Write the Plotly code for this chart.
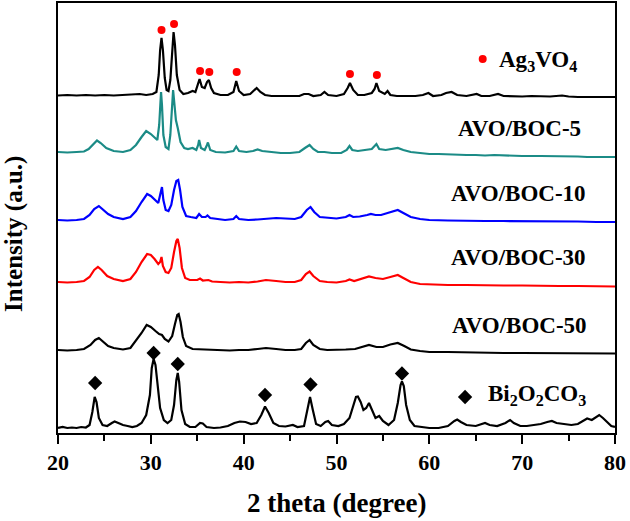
import plotly.graph_objects as go

# ---------------- data (2 theta in degrees, stacked intensity in a.u.) ----------------
ag_x = [20, 21, 22, 23, 24, 25, 26, 27, 28, 28.8, 29.5, 30.2, 30.6, 30.85, 31.0, 31.15, 31.3, 31.5, 31.7, 31.9,
        32.1, 32.3, 32.45, 32.6, 32.8, 33.1, 33.5, 34.0, 34.5, 34.8, 35.0, 35.25, 35.5, 35.8, 36.05, 36.25, 36.5,
        36.8, 37.5, 38.3, 38.9, 39.2, 39.5, 40.0, 40.7, 41.1, 41.4, 41.8, 42.3, 43, 44, 45, 46, 46.5, 47, 47.5,
        48.3, 48.7, 49.1, 50, 50.8, 51.2, 51.45, 51.8, 52.3, 53, 53.8, 54.1, 54.3, 54.6, 55.2, 55.5, 55.8, 56.5,
        57.5, 58.5, 59.3, 59.9, 60.4, 61.3, 61.8, 62.4, 63, 64, 65.1, 65.6, 66.5, 67.4, 68, 69, 70, 71, 72, 73,
        74.3, 75, 76, 77, 78, 79, 80]
ag_y = [337.5, 338, 337.5, 338, 337.5, 338, 337.5, 338, 338, 339, 338, 339, 341, 358, 383, 395, 383, 355, 343, 342,
        353, 388, 401, 388, 358, 343, 339, 340, 342, 341, 348, 354, 346, 345, 351, 353, 345,
        340, 338, 338, 341, 352, 342, 338, 339, 342, 345, 341, 338, 337, 337, 337.5, 337, 339, 339, 337,
        338, 341, 338, 337, 339, 345, 350, 343, 338, 338, 340, 344, 350, 342, 339, 342, 338, 337,
        337, 337, 338, 340, 337, 338, 340, 341, 338, 337, 339, 337, 337, 339, 337, 336.5, 336.5, 337, 336.5, 336.5,
        337.5, 336.5, 336, 336, 336, 336, 336]

b5_x = [20, 21, 22, 22.8, 23.3, 23.8, 24.2, 24.6, 25.2, 26, 27, 27.8, 28.4, 29.0, 29.5, 30.0, 30.4, 30.7, 30.9,
        31.0, 31.1, 31.2, 31.35, 31.6, 31.9, 32.1, 32.3, 32.4, 32.55, 32.7, 32.9, 33.2, 33.6, 34.0, 34.5, 34.9,
        35.1, 35.2, 35.4, 35.8, 36.05, 36.15, 36.4, 37, 38, 38.9, 39.2, 39.5, 40.3, 41, 41.5, 42, 43, 44, 45, 46,
        46.6, 47.1, 47.5, 48, 48.7, 49.5, 50.5, 51.1, 51.4, 51.7, 52.3, 53.2, 53.8, 54.3, 54.6, 55.3, 56, 56.6,
        57.2, 58, 59, 60, 61, 62, 63, 64, 65, 66, 67, 68, 69, 70, 72, 74, 75, 76, 77, 78, 80]
b5_y = [281, 280.5, 281, 281.5, 284, 289, 292.5, 290, 285, 282, 281, 283, 288, 296, 302, 299, 295, 293, 308,
        333, 341, 328, 298, 286, 284, 298, 333, 343, 328, 313, 305, 291, 285, 284, 285, 283,
        288, 293, 285, 283, 288, 290.5, 283, 281, 280.5, 282, 286.5, 282, 281, 282, 283.5, 282, 281, 280, 280, 281,
        285, 288, 284, 281, 281, 280, 280, 283, 287, 283, 282, 283, 284, 289, 284, 283, 284, 285,
        283, 281, 280, 279, 279, 278.5, 278, 278, 278, 277.5, 278, 277.5, 277, 277, 277, 277, 276.5, 276.5, 276, 276, 276]

b10_x = [20, 21, 22, 22.8, 23.4, 23.9, 24.4, 24.8, 25.4, 26, 27, 27.8, 28.4, 29.0, 29.6, 30.0, 30.4, 30.8, 31.0,
         31.2, 31.35, 31.6, 31.9, 32.2, 32.5, 32.75, 32.95, 33.15, 33.4, 33.8, 34.3, 34.9, 35.2, 35.5, 35.9, 36.1,
         36.4, 37, 38, 38.9, 39.2, 39.5, 40.5, 41.5, 42.5, 43.5, 44.5, 45.5, 46.2, 46.8, 47.2, 47.6, 48.2, 49, 50,
         51, 51.4, 51.8, 52.5, 53.3, 53.7, 54.2, 54.8, 55.5, 56.1, 56.6, 57.2, 58, 59, 60, 62, 64, 66, 68, 70, 72,
         74, 76, 78, 80]
b10_y = [213, 212.5, 213, 214, 218, 224, 227, 224, 219, 216, 214, 216, 222, 231, 239, 237, 233, 230, 238,
         246, 233, 223, 222, 228, 243, 252, 253, 243, 226, 217, 216, 215, 219, 216, 216, 217.5,
         215, 214, 213, 214, 217, 214, 213, 213.5, 214, 215, 214.5, 214, 216, 223, 226, 221, 216, 215, 214.5,
         216, 218, 216, 216.5, 218, 219, 218, 218, 220, 222, 223, 220, 216, 214, 213, 212.5, 212, 212, 212, 212, 211.5,
         211.5, 211.5, 211, 211]

b30_x = [20, 21, 22, 22.8, 23.4, 23.9, 24.3, 24.7, 25.3, 26, 27, 27.8, 28.4, 29.0, 29.6, 30.0, 30.4, 30.8, 31.0,
         31.15, 31.3, 31.6, 31.9, 32.2, 32.5, 32.75, 32.9, 33.1, 33.35, 33.7, 34.2, 35.0, 35.3, 35.6, 36.2, 36.6,
         37.5, 38.5, 39.5, 40.5, 41.5, 42.4, 43.5, 44.5, 45.5, 46.2, 46.7, 47.1, 47.5, 48.2, 49, 50, 51, 51.4, 51.9,
         52.7, 53.5, 54.2, 55, 55.8, 56.6, 57.2, 58, 59, 60, 62, 64, 66, 68, 70, 72, 74, 76, 78, 80]
b30_y = [151, 150.5, 151, 152, 156, 163, 166, 163, 157, 154, 152, 154, 161, 171, 179, 178, 174, 169, 171,
         176, 167, 161, 160, 165, 181, 192, 194, 185, 165, 155, 153, 153, 154.5, 152.5, 153, 151.5,
         151, 150.5, 151, 150.5, 151.5, 153, 152, 151, 151, 153, 159, 161.5, 157, 152, 151, 150.5, 152, 153.5, 152,
         154, 156.5, 155, 154, 156, 158, 155, 151, 149, 148.5, 148, 148, 147.5, 147.5, 147.5, 147, 147, 147, 147, 146.5]

b50_x = [20, 21, 22, 22.8, 23.5, 24.0, 24.4, 24.8, 25.4, 26, 27, 27.8, 28.4, 29.0, 29.55, 30.0, 30.5, 30.9, 31.2,
         31.5, 31.9, 32.3, 32.6, 32.85, 33.0, 33.2, 33.45, 33.8, 34.5, 35.5, 36.5, 37.5, 38.5, 39.5, 40.5, 41.5,
         42.4, 43.5, 44.5, 45.5, 46.2, 46.7, 47.1, 47.5, 48.2, 49, 50, 51, 52, 52.8, 53.5, 54.3, 55, 55.8, 56.6,
         57.3, 58, 59, 60, 62, 64, 66, 68, 70, 72, 74, 76, 78, 80]
b50_y = [83, 82.5, 83, 84, 88, 93, 95, 92, 87, 85, 83.5, 85, 92, 100, 108, 106, 102, 99, 98,
         94, 91.5, 97, 109, 118, 119, 111, 96, 87, 84, 83.5, 83, 83, 82.5, 83, 83, 84,
         85, 84, 83, 83, 84, 90, 93, 88, 84, 83, 83, 83.5, 84, 86, 88, 86, 86, 88.5, 90,
         87, 83.5, 82, 81, 81, 80.5, 80.5, 80, 80, 80, 80, 80, 79.5, 79.5]

boc_x = [20, 20.5, 21, 21.5, 22, 22.5, 23, 23.4, 23.7, 23.95, 24.15, 24.4, 24.8, 25.3, 25.8, 26.1, 26.5, 27, 27.5,
         28, 28.5, 29, 29.5, 29.9, 30.1, 30.3, 30.5, 30.7, 31.0, 31.4, 31.8, 32.2, 32.5, 32.75, 32.9, 33.05, 33.3,
         33.7, 34.2, 34.8, 35.3, 35.6, 36, 36.8, 37.5, 38.3, 39, 39.6, 40.2, 40.8, 41.4, 41.9, 42.3, 42.7, 43.2,
         43.8, 44.5, 45.3, 45.8, 46.5, 46.85, 47.15, 47.45, 47.8, 48.3, 48.8, 49.1, 49.5, 50.2, 50.8, 51.4, 51.8,
         52.1, 52.3, 52.6, 52.9, 53.2, 53.5, 53.8, 54.2, 54.6, 55.0, 55.6, 56.2, 56.6, 56.9, 57.05, 57.25, 57.5,
         57.9, 58.4, 59, 60, 61, 62, 62.7, 63.0, 63.4, 64, 65, 65.6, 66.0, 66.5, 67.3, 68.2, 68.7, 69.1, 69.8,
         70.5, 71.3, 72, 72.7, 73.2, 73.7, 74.5, 75.3, 76, 76.6, 77.0, 77.5, 78.0, 78.3, 78.7, 79.2, 79.6, 80]
boc_y = [5, 6, 5, 5.5, 5, 6, 5.5, 8, 21, 36, 31, 15, 8, 7, 10, 11.5, 10, 8, 7,
         6, 7, 10, 18, 38, 65, 74, 68, 48, 25, 13, 10, 13, 28, 53, 60, 51, 23,
         9, 6, 6, 10, 9.5, 6, 5, 5.5, 7, 10, 11.5, 11, 9, 10, 18, 26.5, 20, 10,
         7, 6.5, 8, 6, 7, 23, 36, 23, 9, 7, 11, 12, 8, 7, 9, 15, 28,
         36, 36.5, 31, 23, 25, 30, 23, 15, 17, 12, 8, 13, 30, 48, 51.5, 47, 28,
         13, 7, 6, 5, 5, 7, 12, 13.5, 11, 8, 7, 9, 10, 8, 7, 10, 13, 10, 7,
         7, 8, 9, 11, 12, 10, 9, 8, 9, 12, 14.5, 13, 16, 18, 15, 10, 7, 6]

# phase reflection markers
ag_mark_x = [31.15, 32.5, 35.3, 36.3, 39.25, 51.45, 54.35]
ag_mark_y = [403, 409, 362, 361, 361, 359, 358]
boc_mark_x = [24.0, 30.3, 32.9, 42.3, 47.2, 57.05]
boc_mark_y = [50, 80, 69, 38, 48.5, 59.5]

sample_labels = ["AVO/BOC-5", "AVO/BOC-10", "AVO/BOC-30", "AVO/BOC-50"]
label_x = [69.75, 69.6, 69.6, 69.7]
label_y = [305, 240, 176, 108]
x_ticks = [20, 30, 40, 50, 60, 70, 80]

FONT = "Liberation Serif"

fig = go.Figure()
traces = [
    (ag_x, ag_y, "#000000", "Ag3VO4"),
    (b5_x, b5_y, "#1b8b86", "AVO/BOC-5"),
    (b10_x, b10_y, "#0000ff", "AVO/BOC-10"),
    (b30_x, b30_y, "#ff0000", "AVO/BOC-30"),
    (b50_x, b50_y, "#000000", "AVO/BOC-50"),
    (boc_x, boc_y, "#000000", "Bi2O2CO3"),
]
for xs, ys, col, name in traces:
    fig.add_trace(go.Scatter(x=xs, y=ys, mode="lines", name=name,
                             line=dict(color=col, width=2.2), showlegend=False))

fig.add_trace(go.Scatter(x=ag_mark_x, y=ag_mark_y, mode="markers", showlegend=False,
                         marker=dict(symbol="circle", size=8, color="#ff0000")))
fig.add_trace(go.Scatter(x=boc_mark_x, y=boc_mark_y, mode="markers", showlegend=False,
                         marker=dict(symbol="diamond", size=11, color="#000000")))
# legend-like key markers
fig.add_trace(go.Scatter(x=[65.75], y=[374], mode="markers", showlegend=False,
                         marker=dict(symbol="circle", size=8, color="#ff0000")))
fig.add_trace(go.Scatter(x=[63.85], y=[36], mode="markers", showlegend=False,
                         marker=dict(symbol="diamond", size=11, color="#000000")))

for t, lx, ly in zip(sample_labels, label_x, label_y):
    fig.add_annotation(x=lx, y=ly, xref="x", yref="y", text="<b>" + t + "</b>", showarrow=False,
                       xanchor="center", yanchor="middle", font=dict(family=FONT, size=23, color="black"))
fig.add_annotation(x=67.3, y=372, xref="x", yref="y", text="<b>Ag<sub>3</sub>VO<sub>4</sub></b>",
                   showarrow=False, xanchor="left", yanchor="middle",
                   font=dict(family=FONT, size=23, color="black"))
fig.add_annotation(x=66.1, y=38, xref="x", yref="y", text="<b>Bi<sub>2</sub>O<sub>2</sub>CO<sub>3</sub></b>",
                   showarrow=False, xanchor="left", yanchor="middle",
                   font=dict(family=FONT, size=23, color="black"))

# axis titles
fig.add_annotation(x=0.5, y=-0.163, xref="paper", yref="paper", text="<b>2 theta (degree)</b>",
                   showarrow=False, xanchor="center", yanchor="middle",
                   font=dict(family=FONT, size=27, color="black"))
fig.add_annotation(x=-0.079, y=0.463, xref="paper", yref="paper", text="<b>Intensity (a.u.)</b>",
                   showarrow=False, xanchor="center", yanchor="middle", textangle=-90,
                   font=dict(family=FONT, size=25, color="black"))

fig.update_layout(
    width=630, height=521,
    margin=dict(l=58, r=15, t=3, b=88, autoexpand=False),
    paper_bgcolor="white", plot_bgcolor="white",
    font=dict(family=FONT, color="black"),
)
fig.update_xaxes(
    range=[20, 80], tickvals=x_ticks, ticktext=["<b>%d</b>" % v for v in x_ticks],
    ticks="outside", ticklen=9, tickwidth=1.5, tickcolor="black",
    minor=dict(dtick=5, tick0=20, ticks="outside", ticklen=6, tickwidth=1.5, tickcolor="black"),
    showline=True, linewidth=1.5, linecolor="black", mirror=True, showgrid=False, zeroline=False,
    tickfont=dict(family=FONT, size=22, color="black"), automargin=False,
)
fig.update_yaxes(
    range=[0, 430], showticklabels=False, ticks="",
    showline=True, linewidth=1.5, linecolor="black", mirror=True, showgrid=False, zeroline=False,
    automargin=False,
)

fig.write_html("out.html", config={"displayModeBar": False},
               post_script="document.body.style.margin='0px';")
